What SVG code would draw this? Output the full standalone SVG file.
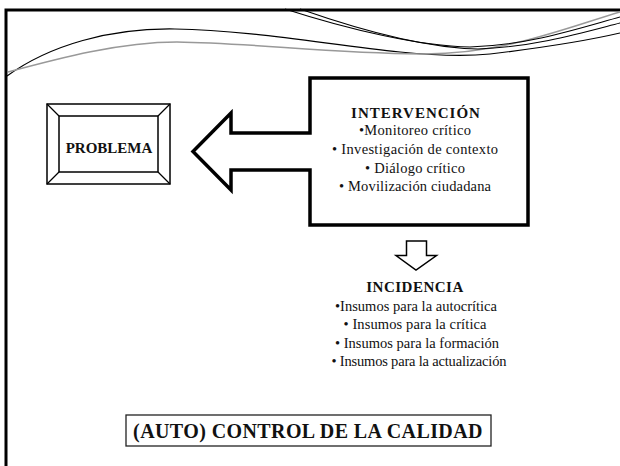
<svg xmlns="http://www.w3.org/2000/svg" width="620" height="466" viewBox="0 0 620 466">
<style>
.t{font-family:"Liberation Serif","Times New Roman",serif;fill:#111;text-anchor:middle}
.b{font-weight:bold}
.l{font-size:14.5px}
.thin{fill:none;stroke:#000;stroke-width:1.3}
</style>
<rect width="620" height="466" fill="#fff"/>
<g id="slide-frame">
<path d="M6,466 V10 H620" fill="none" stroke="#000" stroke-width="3"/>
<path d="M7,76 C50,45 110,28 175,29 C250,30 330,45 400,52 C440,56 470,56 490,54 C540,48 590,40 620,33" fill="none" stroke="#000" stroke-width="1.2"/>
<path d="M8,72 C60,58 120,42 177,42 C250,43 330,53 420,54 C500,55 560,30 620,12" fill="none" stroke="#999" stroke-width="1.5"/>
<path d="M285,9 C350,30 420,46 470,47 C530,45 580,28 620,17" fill="none" stroke="#000" stroke-width="1.1"/>
<path d="M300,9 C360,30 425,48 478,49 C535,47 585,32 620,23" fill="none" stroke="#000" stroke-width="1.1"/>
</g>
<g id="problema">
<rect x="47" y="104" width="123" height="80" fill="#fff" stroke="#000" stroke-width="1.5"/>
<rect x="59" y="116" width="99" height="56" fill="#fff" stroke="#000" stroke-width="1.5"/>
<path d="M47,104 L59,116 M170,104 L158,116 M47,184 L59,172 M170,184 L158,172" class="thin"/>
<text class="t b" x="109" y="153" font-size="15">PROBLEMA</text>
</g>
<g id="intervencion">
<path d="M310,78 H528 V225 H310 V170 H231 V190 L193,151.5 L231,113 V133 H310 Z" fill="#fff" stroke="#000" stroke-width="3.5" stroke-linejoin="miter"/>
<text class="t b" x="416" y="118" font-size="15" letter-spacing="1">INTERVENCIÓN</text>
<text class="t l" x="415" y="135" textLength="112" lengthAdjust="spacing">•Monitoreo crítico</text>
<text class="t l" x="415" y="154" textLength="166" lengthAdjust="spacing">• Investigación de contexto</text>
<text class="t l" x="415" y="173" textLength="100" lengthAdjust="spacing">• Diálogo crítico</text>
<text class="t l" x="415" y="191" textLength="152" lengthAdjust="spacing">• Movilización ciudadana</text>
</g>
<g id="connectors">
<path d="M406.5,241 H426.5 V255.5 H436.5 L416,270 L396,255.5 H406.5 Z" fill="#fff" stroke="#000" stroke-width="1.5"/>
</g>
<g id="incidencia">
<text class="t b" x="415" y="292" font-size="15" letter-spacing="0.5">INCIDENCIA</text>
<text class="t l" x="416" y="311" textLength="162" lengthAdjust="spacing">•Insumos para la autocrítica</text>
<text class="t l" x="415" y="329" textLength="143" lengthAdjust="spacing">• Insumos para la crítica</text>
<text class="t l" x="417" y="348" textLength="164" lengthAdjust="spacing">• Insumos para la formación</text>
<text class="t l" x="419" y="366" textLength="175" lengthAdjust="spacing">• Insumos para la actualización</text>
</g>
<g id="control">
<rect x="126" y="415" width="365" height="31" fill="#fff" stroke="#222" stroke-width="1.3"/>
<text class="t b" x="308" y="438" font-size="20" letter-spacing="0.4">(AUTO) CONTROL DE LA CALIDAD</text>
</g>
</svg>
